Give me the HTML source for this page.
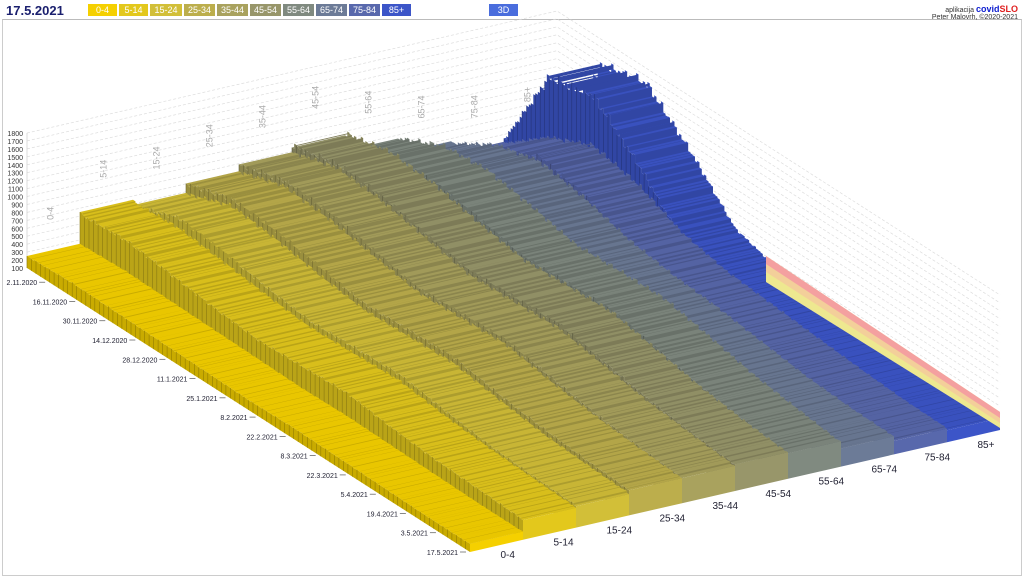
<!DOCTYPE html><html><head><meta charset="utf-8"><style>
body{margin:0;width:1024px;height:576px;overflow:hidden;background:#fff;font-family:"Liberation Sans",sans-serif}
#hdr{position:absolute;left:0;top:0;width:1024px;height:20px}
.lg{position:absolute;top:4px;height:12px;font-size:9px;color:#fff;text-align:center;line-height:12px}
</style></head><body>
<div style="position:absolute;left:2px;top:19px;width:1018px;height:555px;border:1px solid #ccc;border-top:1px solid #bbb"></div>
<div style="position:absolute;left:6px;top:3px;font-size:13px;font-weight:bold;color:#1a1f6e">17.5.2021</div>
<div id="hdr"></div>
<div class="lg" style="left:489px;width:29px;background:#4a6ddd">3D</div>
<div style="position:absolute;right:6px;top:4px;font-size:7px;color:#333">aplikacija <b style="color:#1020d0;font-size:9px">covid<span style="color:#e02020">SLO</span></b></div>
<div style="position:absolute;right:6px;top:14px;font-size:7px;color:#333">Peter Malovrh, ©2020-2021</div>
<svg id="s" width="1024" height="576" style="position:absolute;left:0;top:0"></svg>
<script>
(function(){
var names=["0-4","5-14","15-24","25-34","35-44","45-54","55-64","65-74","75-84","85+"];
var cols=["#f5d000","#e3c81c","#d2bf38","#bcae4c","#a9a25e","#98966a","#808a80","#6c7b97","#5868ac","#3c55c8"];
var hdr=document.getElementById('hdr'),x0=88,ws=[29,29,32,31,31,31,31,31,31,29];
for(var k=0;k<10;k++){var dv=document.createElement('div');dv.className='lg';dv.style.left=x0+'px';dv.style.width=ws[k]+'px';dv.style.background=cols[k];dv.textContent=names[k];hdr.appendChild(dv);x0+=ws[k]+2;}
var A=[27,268],U=[53,-12.2],V=[443,284];
function P(i,j,h){return [A[0]+i*U[0]+j*V[0],A[1]+i*U[1]+j*V[1]-h];}
var K=[[12,14,13,12,11,10,11,10,9,8,8],[42,45,40,34,30,32,34,28,24,22,20],[38,55,50,42,36,38,40,33,27,24,22],[48,62,58,50,42,44,46,38,32,28,25],[55,68,64,55,46,48,50,42,34,29,25],[62,72,68,58,50,52,54,45,36,30,26],[45,66,70,62,52,54,55,46,36,30,24],[28,55,66,58,45,38,34,28,22,19,18],[16,50,70,60,40,30,26,22,18,15,14],[20,110,120,80,32,18,15,13,12,12,12]];
function H(i,j){var x=j*10,a=Math.floor(x);if(a>=10)return K[i][10];var f=x-a;return K[i][a]*(1-f)+K[i][a+1]*f;}
function shade(c,f){var n=parseInt(c.slice(1),16),r=n>>16,g=(n>>8)&255,b=n&255;return 'rgb('+Math.min(255,Math.round(r*f))+','+Math.min(255,Math.round(g*f))+','+Math.min(255,Math.round(b*f))+')';}
var s='';
function pl(p){return p.map(function(q){return q[0].toFixed(1)+','+q[1].toFixed(1)}).join(' ');}
for(var v=100;v<=1800;v+=100){var hh=(v-100)*135/1700;var a=P(0,0,hh),b=P(10,0,hh),c=P(10,1,hh);
s+='<polyline points="'+pl([a,b,c])+'" fill="none" stroke="#ddd" stroke-width="0.7" stroke-dasharray="3,2"/>';
s+='<text x="23" y="'+(a[1]+3)+'" font-size="7" text-anchor="end" fill="#333">'+v+'</text>';}
s+='<line x1="27" y1="133" x2="27" y2="268" stroke="#ccc" stroke-width="0.7"/>';
for(var i=0;i<10;i++){var p=P(i+0.5,0,K[i][0]+30);s+='<text transform="translate('+p[0]+','+p[1]+') rotate(-90)" font-size="9" fill="#aaa">'+names[i]+'</text>';}
var N=196;
for(var i=9;i>=0;i--){
 var L=[],R=[],hs=[];
 for(var d=0;d<=N;d++){var j=d/N;hs.push(H(i,j)*(1+0.03*Math.sin(d*2.3+i)+0.02*Math.sin(d*5.1+2*i)));}
 for(var d=0;d<N;d++){var j0=d/N,j1=(d+1)/N,h=hs[d];L.push(P(i,j0,h),P(i,j1,h));R.push(P(i+1,j0,h),P(i+1,j1,h));}
 var tp=L.concat(R.slice().reverse());
 s+='<polygon points="'+pl(tp)+'" fill="'+shade(cols[i],0.95)+'"/>';
 for(var d=0;d<N;d++){var j=(d+1)/N,h=hs[d],h2=hs[d+1];if(h>h2){s+='<polygon points="'+pl([P(i,j,h),P(i+1,j,h),P(i+1,j,h2),P(i,j,h2)])+'" fill="'+shade(cols[i],0.82)+'"/>';}}
 var lf=L.concat([P(i,1,0),P(i,0,0)]);
 s+='<polygon points="'+pl(lf)+'" fill="'+shade(cols[i],0.82)+'"/>';
 for(var d=0;d<N;d+=2){var j=d/N;var a=P(i,j,hs[d]),b=P(i,j,0);s+='<line x1="'+a[0].toFixed(1)+'" y1="'+a[1].toFixed(1)+'" x2="'+b[0].toFixed(1)+'" y2="'+b[1].toFixed(1)+'" stroke="'+shade(cols[i],0.6)+'" stroke-width="0.6"/>';}
 var hf=hs[N-1];s+='<polygon points="'+pl([P(i,1,hf),P(i+1,1,hf),P(i+1,1,0),P(i,1,0)])+'" fill="'+cols[i]+'"/>';
 var q=P(i+0.5,1,0);s+='<text x="'+(q[0]+4)+'" y="'+(q[1]+12)+'" font-size="10" fill="#223">'+names[i]+'</text>';
}
s+='<polygon points="766,256 1000,412 1000,428 766,282" fill="#eee890"/>';
s+='<polygon points="766,256 1000,412 1000,423 766,272" fill="#f3cf9a"/>';
s+='<polygon points="766,256 1000,412 1000,418 766,264" fill="#f4a0a0"/>';
var dates=["2.11.2020","16.11.2020","30.11.2020","14.12.2020","28.12.2020","11.1.2021","25.1.2021","8.2.2021","22.2.2021","8.3.2021","22.3.2021","5.4.2021","19.4.2021","3.5.2021","17.5.2021"];
for(var k=0;k<15;k++){var j=0.05+k*0.95/14;var p=P(0,j,0);s+='<text x="'+(p[0]-12)+'" y="'+(p[1]+3)+'" font-size="7" text-anchor="end" fill="#223">'+dates[k]+'</text><line x1="'+(p[0]-10)+'" y1="'+p[1]+'" x2="'+(p[0]-4)+'" y2="'+p[1]+'" stroke="#555" stroke-width="0.7"/>';}
document.getElementById('s').innerHTML=s;
})();
</script></body></html>
